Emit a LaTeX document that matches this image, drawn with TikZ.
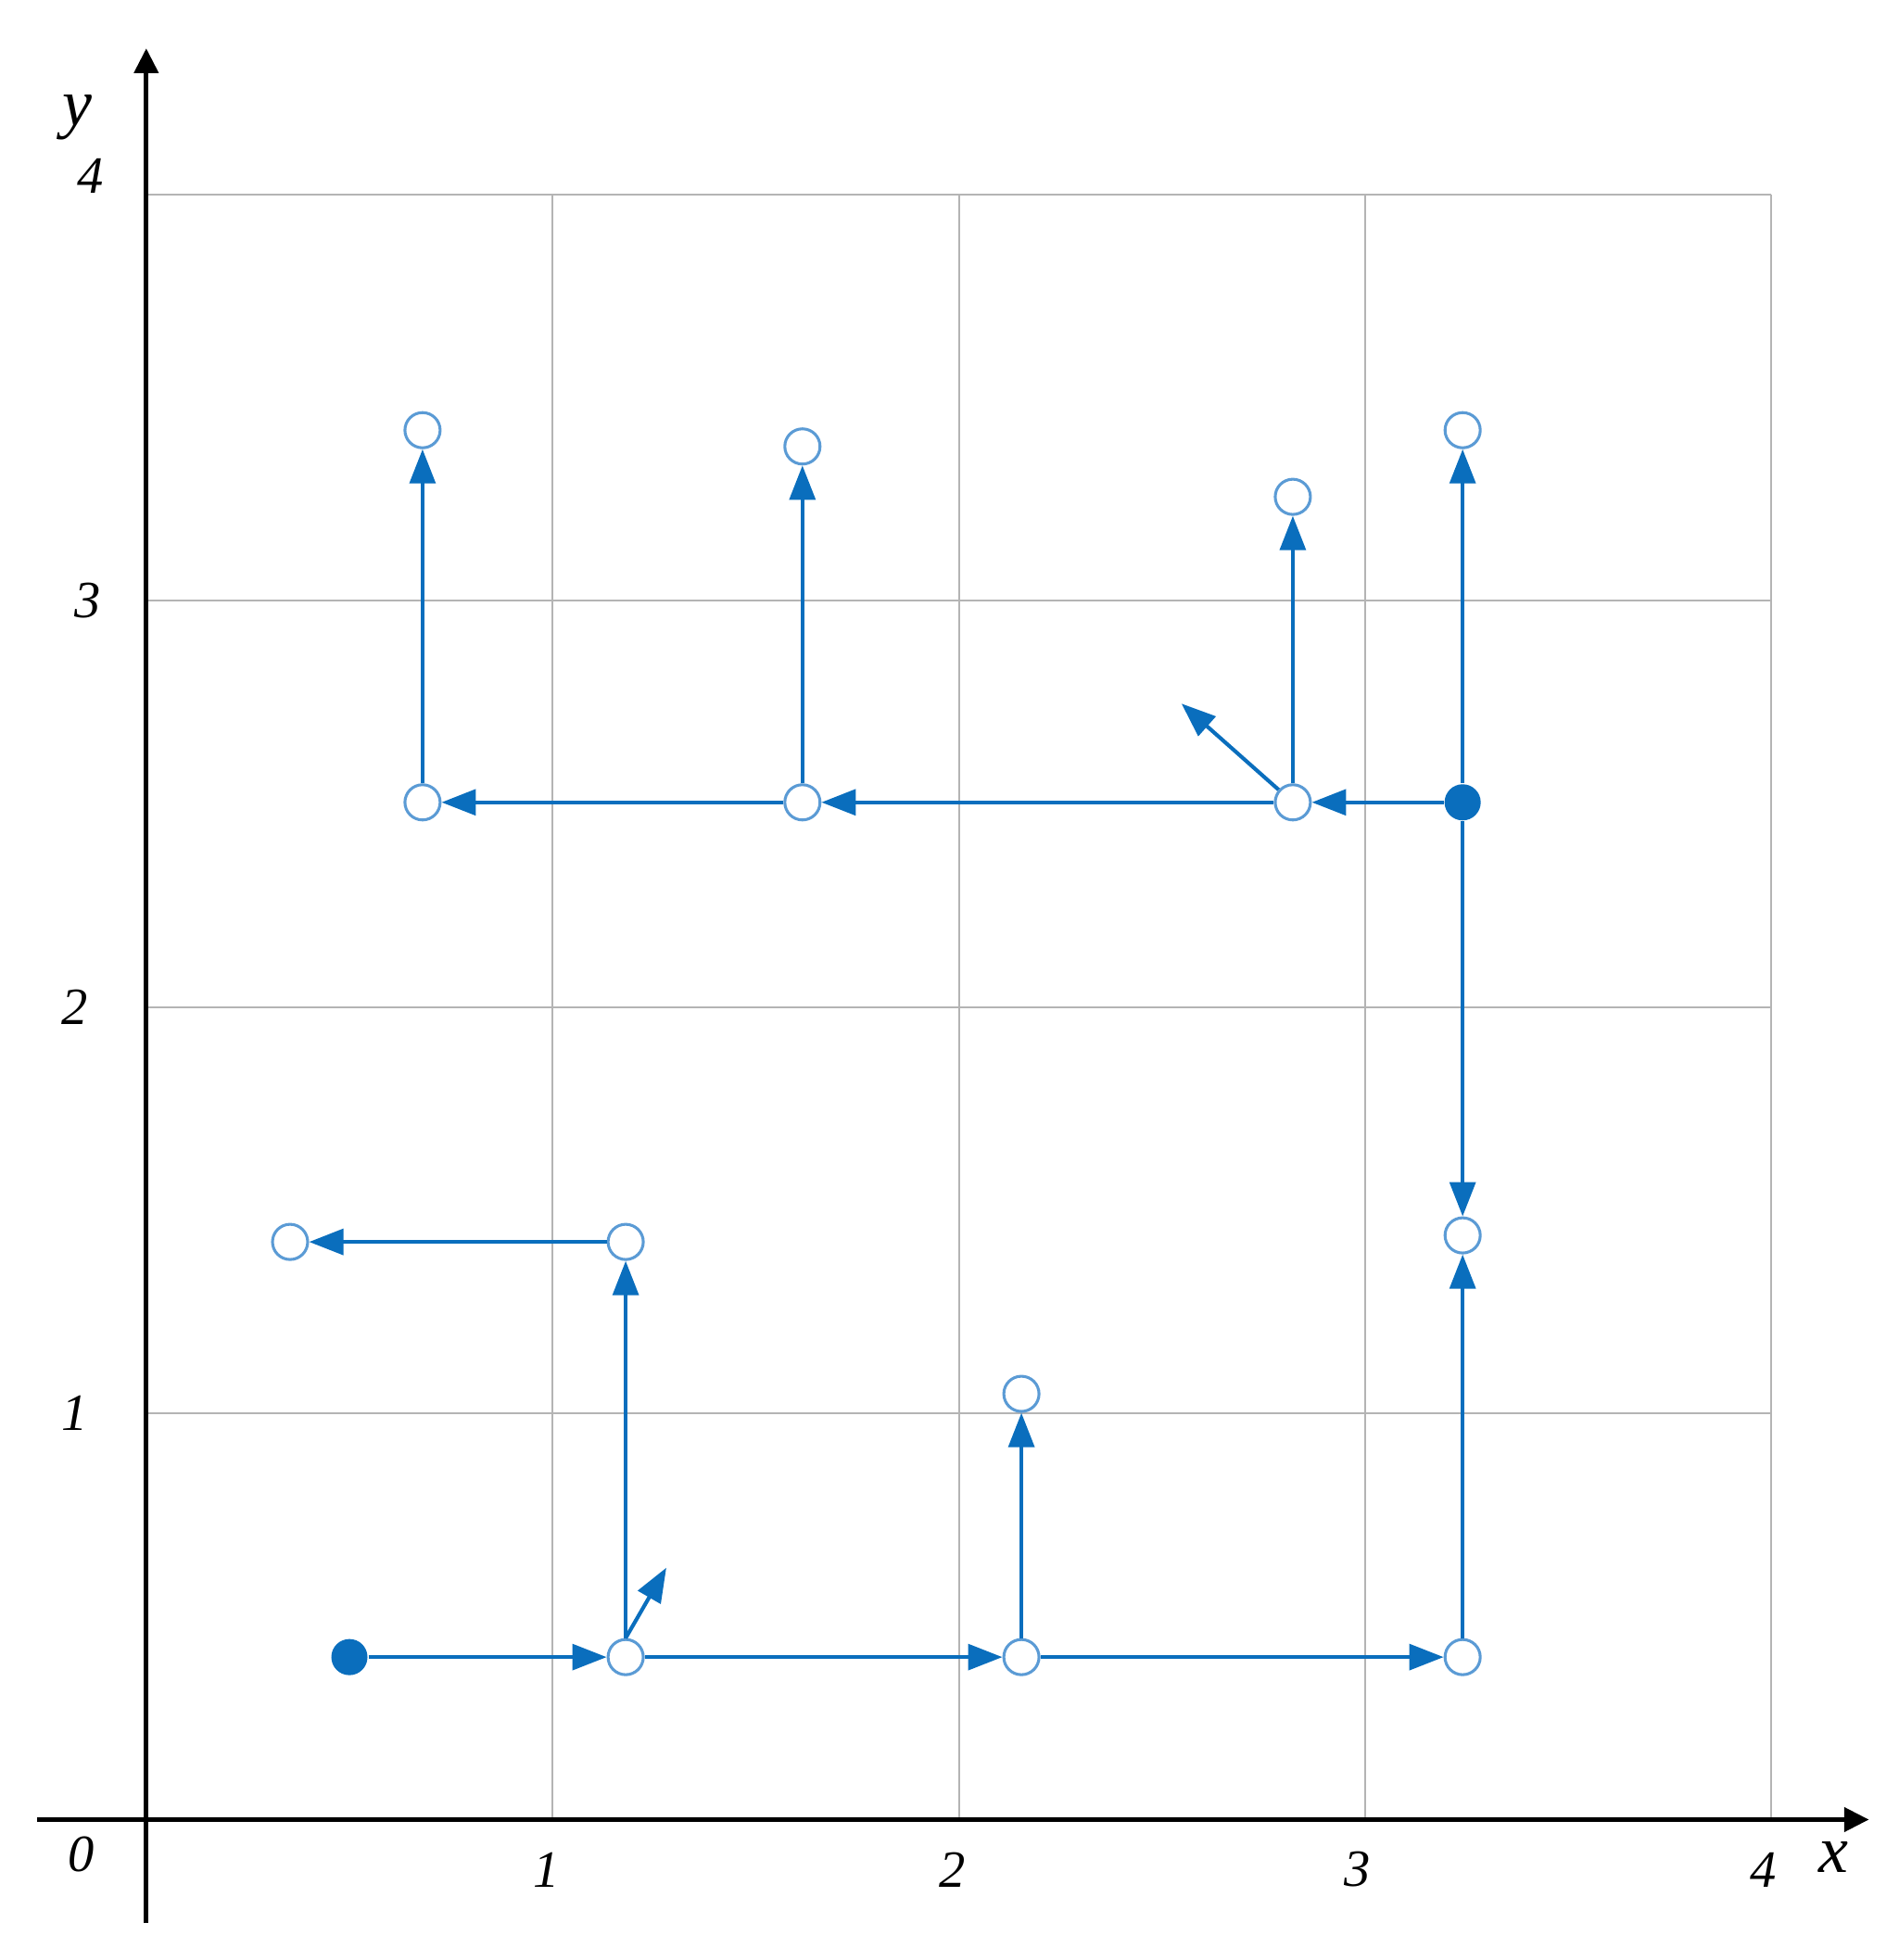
\documentclass[tikz,border=0pt]{standalone}
\usepackage{fontspec}
\setmainfont{Liberation Serif}
\usetikzlibrary{arrows.meta}
\definecolor{pblue}{HTML}{0A6EBD}
\definecolor{pring}{HTML}{5B9BD5}
\definecolor{gridc}{HTML}{B4B4B4}
\tikzset{
  open/.style={circle,draw=pring,fill=white,line width=0.6pt,minimum size=7.4pt,inner sep=0pt},
  full/.style={circle,fill=pblue,minimum size=7.6pt,inner sep=0pt},
  flow/.style={draw=pblue,line width=0.8pt,-{Triangle[length=7.2pt,width=5.4pt]}},
  axis/.style={line width=1pt,-{Triangle[length=5.2pt,width=5pt]}},
  tick/.style={font=\itshape\fontsize{11}{12}\selectfont,inner sep=0pt},
  axlab/.style={font=\itshape\fontsize{14}{16}\selectfont,inner sep=0pt}
}
\begin{document}
\begin{tikzpicture}[x=3cm,y=3cm]
\useasboundingbox (-0.36,-0.3456) rectangle (4.314,4.479);
% grid
\draw[gridc,line width=0.4pt,step=3cm] (0,0) grid (4,4);
% axes
\coordinate (xs) at (-0.268,0);
\coordinate (xe) at (4.24,0);
\coordinate (ys) at (0,-0.255);
\coordinate (ye) at (0,4.36);
\draw[axis] (xs) -- (xe);
\draw[axis] (ys) -- (ye);
% tick labels
\node[tick] (l0) at (-0.16,-0.086) {0};
\node[tick] (lx1) at (0.985,-0.123) {1};
\node[tick] (lx2) at (1.985,-0.123) {2};
\node[tick] (lx3) at (2.98,-0.123) {3};
\node[tick] (lx4) at (3.98,-0.123) {4};
\node[tick] (ly1) at (-0.175,1.0) {1};
\node[tick] (ly2) at (-0.175,2.0) {2};
\node[tick] (ly3) at (-0.145,3.0) {3};
\node[tick] (ly4) at (-0.138,4.046) {4};
\node[axlab] (lx) at (4.154,-0.092) {x};
\node[axlab] (ly) at (-0.17,4.19) {y};
% lower path
\node[full] (n1) at (0.5,0.4) {};
\node[open] (n2) at (1.18,0.4) {};
\node[open] (n3) at (2.154,0.4) {};
\node[open] (n4) at (3.24,0.4) {};
\node[open] (n5) at (3.24,1.438) {};
\node[open] (n6) at (2.154,1.048) {};
\node[open] (n7) at (1.18,1.422) {};
\node[open] (n8) at (0.354,1.422) {};
\coordinate (c1) at (1.28,0.62);
\draw[flow] (n1) -- (n2);
\draw[flow] (n2) -- (n3);
\draw[flow] (n3) -- (n4);
\draw[flow] (n4) -- (n5);
\draw[flow] (n3) -- (n6);
\draw[flow] (n2) -- (n7);
\draw[flow] (n7) -- (n8);
\draw[flow] (n2.north) -- (c1);
% upper path
\node[full] (m1) at (3.24,2.504) {};
\node[open] (m2) at (2.822,2.504) {};
\node[open] (m3) at (1.615,2.504) {};
\node[open] (m4) at (0.68,2.504) {};
\node[open] (m5) at (0.68,3.42) {};
\node[open] (m6) at (1.615,3.38) {};
\node[open] (m7) at (2.822,3.256) {};
\node[open] (m8) at (3.24,3.42) {};
\coordinate (c2) at (2.548,2.747);
\draw[flow] (m1) -- (m2);
\draw[flow] (m2) -- (m3);
\draw[flow] (m3) -- (m4);
\draw[flow] (m4) -- (m5);
\draw[flow] (m3) -- (m6);
\draw[flow] (m2) -- (m7);
\draw[flow] (m2) -- (c2);
\draw[flow] (m1) -- (m8);
\draw[flow] (m1) -- (n5);
\end{tikzpicture}
\end{document}
